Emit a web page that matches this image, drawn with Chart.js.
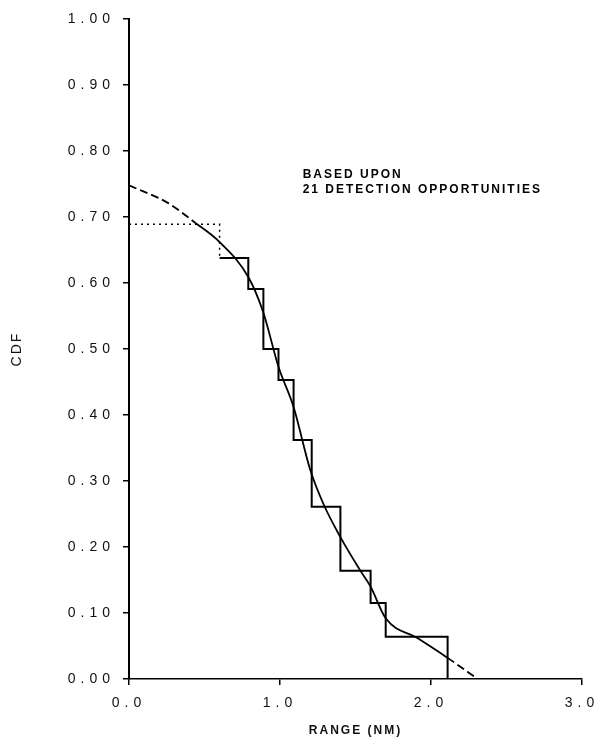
<!DOCTYPE html>
<html>
<head>
<meta charset="utf-8">
<script src="https://cdn.jsdelivr.net/npm/chart.js@4.4.1/dist/chart.umd.min.js"></script>
<style>
html,body{margin:0;padding:0;background:#fff;}
#wrap{width:603px;height:745px;position:relative;}
</style>
</head>
<body>
<div id="wrap"><canvas id="c"></canvas></div>
<script>
// ---- data ----
const xTickValues = [0, 1, 2, 3];
const xTickLabels = ['0.0', '1.0', '2.0', '3.0'];
const yTickValues = [0, 0.1, 0.2, 0.3, 0.4, 0.5, 0.6, 0.7, 0.8, 0.9, 1.0];
const yTickLabels = ['0.00', '0.10', '0.20', '0.30', '0.40', '0.50', '0.60', '0.70', '0.80', '0.90', '1.00'];

// empirical step function (range where each step drops, level after the drop)
const stepRange = [0, 0.60, 0.79, 0.89, 0.99, 1.09, 1.21, 1.40, 1.60, 1.70, 2.11];
const stepCdf   = [0.689, 0.638, 0.591, 0.500, 0.453, 0.362, 0.261, 0.164, 0.115, 0.064, 0.0];

// fitted curve
const fitRange = [0, 0.26, 0.44, 0.60, 0.79, 0.89, 0.99, 1.09, 1.20, 1.29, 1.40, 1.53, 1.60, 1.70, 1.91, 2.11, 2.31];
const fitCdf   = [0.748, 0.721, 0.691, 0.662, 0.609, 0.555, 0.473, 0.412, 0.317, 0.264, 0.215, 0.165, 0.140, 0.092, 0.062, 0.032, 0.0];

const noteLines = ['BASED UPON', '21 DETECTION OPPORTUNITIES'];
const noteRange = 1.15;
const noteCdf = [0.764, 0.741];

const xTitle = 'RANGE (NM)';
const yTitle = 'CDF';

// ---- chart ----
const toPts = (xs, ys) => xs.map((x, i) => ({x: x, y: ys[i]}));

const spacingPlugin = {
  id: 'spacing',
  beforeDraw(chart) { chart.ctx.letterSpacing = '2px'; },
  beforeDatasetsDraw(chart) { chart.ctx.letterSpacing = '0px'; },
  afterDatasetsDraw(chart) { chart.ctx.letterSpacing = '5px'; },
  afterDraw(chart) {
    const ctx = chart.ctx;
    const xs = chart.scales.x, ys = chart.scales.y;
    ctx.save();
    ctx.letterSpacing = '2px';
    ctx.font = 'bold 12px "Liberation Sans", Arial, sans-serif';
    ctx.fillStyle = '#000';
    ctx.textAlign = 'left';
    ctx.textBaseline = 'middle';
    noteLines.forEach((t, i) => {
      ctx.fillText(t, xs.getPixelForValue(noteRange), ys.getPixelForValue(noteCdf[i]));
    });
    ctx.restore();
    ctx.letterSpacing = '0px';
  }
};

new Chart(document.getElementById('c'), {
  type: 'line',
  data: {
    datasets: [
      {
        label: 'Empirical',
        data: toPts(stepRange, stepCdf),
        stepped: true,
        borderColor: '#000',
        borderWidth: 2,
        pointRadius: 0,
        fill: false,
        segment: {
          borderDash: ctx => ctx.p0DataIndex === 0 ? [2, 4] : undefined,
          borderWidth: ctx => ctx.p0DataIndex === 0 ? 1.5 : 2
        }
      },
      {
        label: 'Fit',
        data: toPts(fitRange, fitCdf),
        cubicInterpolationMode: 'monotone',
        borderColor: '#000',
        borderWidth: 1.8,
        pointRadius: 0,
        fill: false,
        segment: {
          borderDash: ctx => (ctx.p0.parsed.x < 0.44 || ctx.p0.parsed.x >= 2.1) ? [8, 4] : undefined
        }
      }
    ]
  },
  options: {
    responsive: true,
    maintainAspectRatio: false,
    animation: false,
    events: [],
    layout: { padding: { top: 19, right: 21, bottom: 0, left: 0 } },
    plugins: { legend: { display: false }, tooltip: { enabled: false } },
    scales: {
      x: {
        type: 'linear',
        position: 'bottom',
        min: 0,
        max: 3,
        afterFit: s => { s.height = 66; },
        afterBuildTicks: s => { s.ticks = xTickValues.map(v => ({value: v})); },
        grid: { drawOnChartArea: false, drawTicks: true, tickLength: 6, color: '#000', lineWidth: 1.5, z: -1 },
        border: { display: true, color: '#000', width: 1.5, dash: [12, 4, 2, 4] },
        ticks: {
          z: 1,
          padding: 10,
          color: '#111',
          maxRotation: 0,
          autoSkip: false,
          font: { family: '"Liberation Sans", Arial, sans-serif', size: 14 },
          callback: (v, i) => xTickLabels[i]
        },
        title: {
          display: true,
          text: xTitle,
          color: '#111',
          padding: { top: 0, bottom: 7 },
          font: { family: '"Liberation Sans", Arial, sans-serif', size: 12, weight: 'bold' }
        }
      },
      y: {
        type: 'linear',
        position: 'left',
        min: 0,
        max: 1,
        afterFit: s => { s.width = 129; },
        afterBuildTicks: s => { s.ticks = yTickValues.map(v => ({value: v})); },
        grid: { drawOnChartArea: false, drawTicks: true, tickLength: 6, color: '#000', lineWidth: 1.5, z: -1 },
        border: { display: true, color: '#000', width: 2 },
        ticks: {
          z: 1,
          padding: 8,
          color: '#111',
          autoSkip: false,
          font: { family: '"Liberation Sans", Arial, sans-serif', size: 14 },
          callback: (v, i) => yTickLabels[i]
        },
        title: {
          display: true,
          text: yTitle,
          color: '#111',
          padding: { top: 9, bottom: 0 },
          font: { family: '"Liberation Sans", Arial, sans-serif', size: 14 }
        }
      }
    }
  },
  plugins: [spacingPlugin]
});
</script>
</body>
</html>
